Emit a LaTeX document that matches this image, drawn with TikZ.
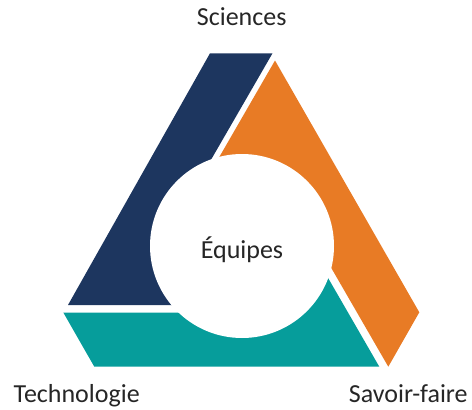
\documentclass[tikz,border=0pt]{standalone}
\usepackage{fontspec}
\setmainfont{Carlito}

\definecolor{bandnavy}{HTML}{1D365F}
\definecolor{bandorange}{HTML}{E87B25}
\definecolor{bandteal}{HTML}{069D9B}
\definecolor{wordgray}{HTML}{262626}

\begin{document}
\begin{tikzpicture}[x=1pt,y=-1pt,
    word/.style={font=\fontsize{26}{31}\selectfont, text=wordgray, inner sep=0pt, anchor=base},
    hub/.style={circle, fill=white, minimum size=184pt, inner sep=0pt}]
    \useasboundingbox (0,0) rectangle (472,410);
    \coordinate (c) at (242,246);
    % each band runs into the middle, the circle cuts it off
    \fill[bandnavy] (210,53.3) -- (272.5,53.3) -- (205.1,170) -- (c) -- (185,305) -- (68,305) -- cycle;
    \fill[bandorange] (275,60.5) -- (419.3,312.3) -- (388.3,366.7) -- (320.9,250) -- (c) -- (211.8,170) -- cycle;
    \fill[bandteal] (63.3,312.5) -- (94.3,366.7) -- (379.3,366.7) -- (317.7,260) -- (c) -- (190,312.5) -- cycle;
    \node[hub] (hub) at (c) {};
    \node[word] (equipes) at (242,258.3) {Équipes};
    \node[word] (sciences) at (241.7,25) {Sciences};
    \node[word] (techno) at (76.7,402.3) {Technologie};
    \node[word] (savoir) at (408.3,402.3) {Savoir-faire};
\end{tikzpicture}
\end{document}
